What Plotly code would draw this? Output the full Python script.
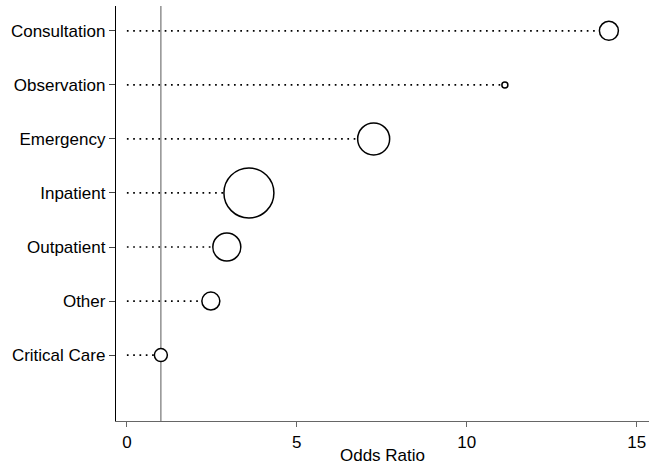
import plotly.graph_objects as go

# Data (top to bottom as displayed)
categories = ["Consultation", "Observation", "Emergency", "Inpatient",
              "Outpatient", "Other", "Critical Care"]
odds_ratio = [14.18, 11.12, 7.26, 3.59, 2.94, 2.47, 1.0]
bubble_weight = [19, 6, 32, 50, 28, 18, 13]
reference_or = 1
x_ticks = [0, 5, 10, 15]

FONT = "Liberation Sans, Arial, Helvetica, sans-serif"
FS = 17

fig = go.Figure()

# dotted lines from 0 to the point
for cat, v in zip(categories, odds_ratio):
    fig.add_trace(go.Scatter(
        x=[0, v], y=[cat, cat], mode="lines",
        line=dict(color="black", width=1.7, dash="1.7px,4.6px"),
        hoverinfo="skip", showlegend=False,
    ))

# reference line
fig.add_shape(type="line", x0=reference_or, x1=reference_or, xref="x",
              y0=0, y1=1, yref="paper",
              line=dict(color="#7f7f7f", width=1.3), layer="below")

# bubbles
fig.add_trace(go.Scatter(
    x=odds_ratio, y=categories, mode="markers",
    marker=dict(size=bubble_weight, sizemode="diameter", color="white",
                line=dict(color="black", width=1.5), opacity=1),
    showlegend=False,
))

fig.update_layout(
    width=650, height=465,
    margin=dict(l=116, r=1, t=6, b=44),
    paper_bgcolor="white", plot_bgcolor="white",
    font=dict(family=FONT, size=FS, color="black"),
    showlegend=False,
)

fig.update_xaxes(
    range=[-0.32, 15.36], tickvals=x_ticks, ticktext=[str(t) for t in x_ticks],
    showgrid=False, zeroline=False, showline=True, linecolor="#666666",
    linewidth=1.3, ticks="outside", ticklen=5, tickcolor="#666666",
    tickwidth=1, tickfont=dict(size=FS, family=FONT),
    title=dict(text="Odds Ratio", font=dict(size=FS, family=FONT), standoff=0),
)

fig.update_yaxes(
    type="category",
    categoryorder="array", categoryarray=categories[::-1],
    range=[-1.22, 6.46],
    showgrid=False, zeroline=False, showline=True, linecolor="black",
    linewidth=1.3, ticks="outside", ticklen=6, tickcolor="#444444",
    tickwidth=1, tickfont=dict(size=FS, family=FONT),
)

fig.write_html(
    "out.html",
    config={"displayModeBar": False},
    post_script="document.body.style.margin='0';document.body.style.overflow='hidden';",
)
